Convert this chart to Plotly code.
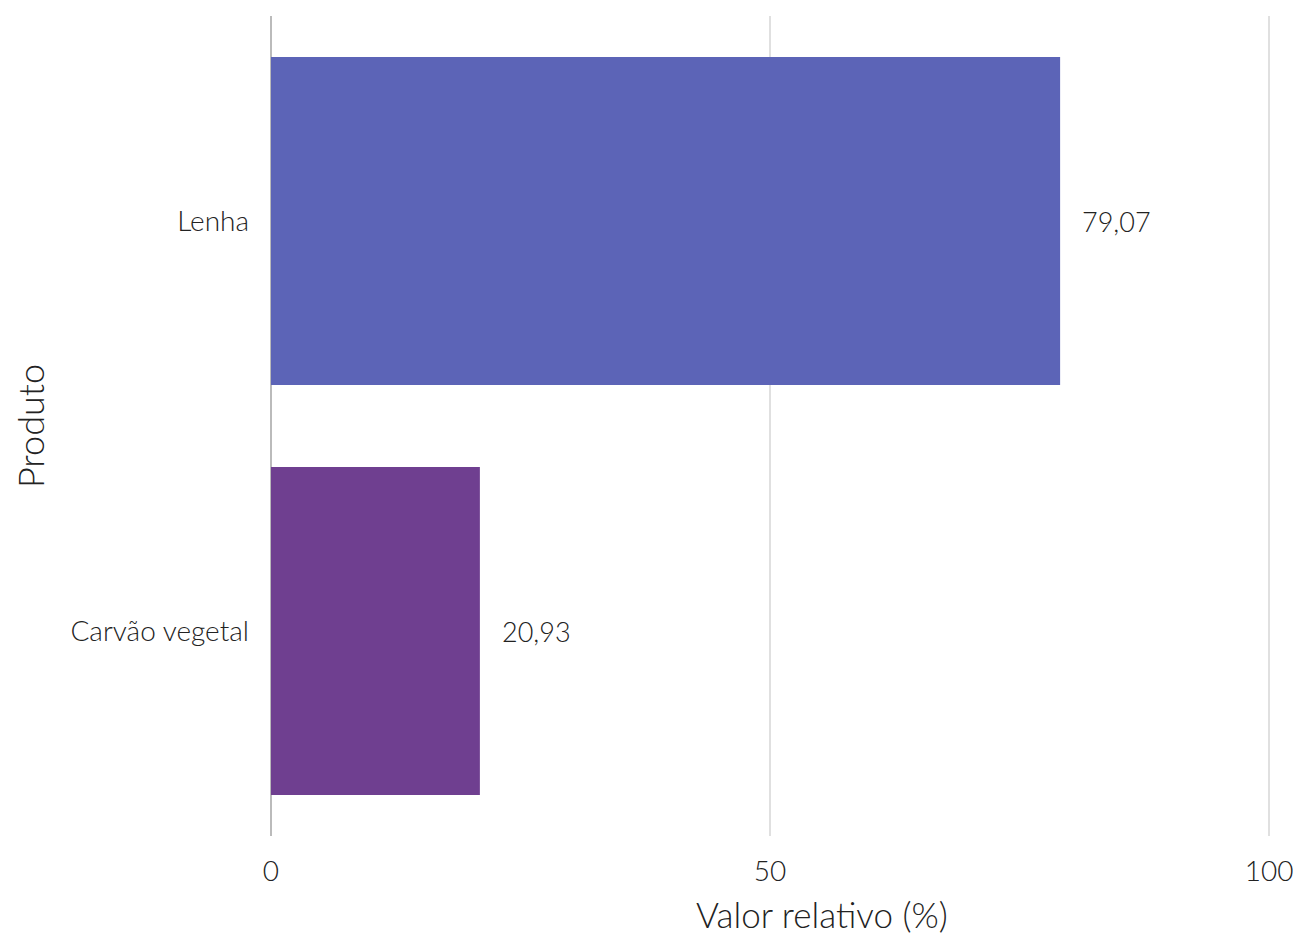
import plotly.graph_objects as go

produtos = ["Lenha", "Carvão vegetal"]
valores = [79.07, 20.93]
rotulos = ["79,07", "20,93"]
cores = ["#5c64b7", "#6f3f90"]
ticks_x = [0, 50, 100]

FONT = "Lato Light, Lato, sans-serif"
COR_TXT = "#222222"

fig = go.Figure()
fig.add_trace(go.Bar(
    x=valores, y=produtos, orientation="h",
    marker=dict(color=cores, line=dict(width=0)),
    width=0.8, showlegend=False, hoverinfo="skip",
))
for p, v, t in zip(produtos, valores, rotulos):
    fig.add_annotation(x=v, y=p, text=t, showarrow=False, xanchor="left",
                       xshift=20, font=dict(family=FONT, size=27, color=COR_TXT, weight=300))

# x-axis title (offset to the right, as in the reference)
fig.add_annotation(xref="paper", yref="paper", x=0.552, y=0, yanchor="bottom",
                   yshift=-100, text="Valor relativo (%)", showarrow=False,
                   borderpad=0,
                   font=dict(family=FONT, size=35, color=COR_TXT, weight=300))

fig.update_layout(
    width=1285, height=930,
    margin=dict(l=260, r=21, t=8, b=102),
    plot_bgcolor="white", paper_bgcolor="white",
    separators=",.",
    font=dict(family=FONT, color=COR_TXT, weight=300),
    bargap=0.2,
)
fig.update_xaxes(
    range=[-0.3, 100.3], tickvals=ticks_x, ticktext=[str(t) for t in ticks_x],
    showgrid=True, gridcolor="#e0e0e0", gridwidth=2,
    zeroline=True, zerolinecolor="#bbbbbb", zerolinewidth=2,
    showline=False, ticks="",
    tickfont=dict(family=FONT, size=28, color=COR_TXT, weight=300),
    ticklabelstandoff=16, ticklabeloverflow="allow",
    automargin=False,
)
fig.update_yaxes(
    categoryorder="array", categoryarray=produtos[::-1],
    range=[-0.5, 1.5],
    showgrid=False, showline=False, ticks="", zeroline=False,
    tickfont=dict(family=FONT, size=28, color=COR_TXT, weight=300),
    ticklabelstandoff=18,
    title=dict(text="Produto", font=dict(family=FONT, size=36, color=COR_TXT, weight=300), standoff=24),
    automargin=False,
)

fig.write_html("out.html")
